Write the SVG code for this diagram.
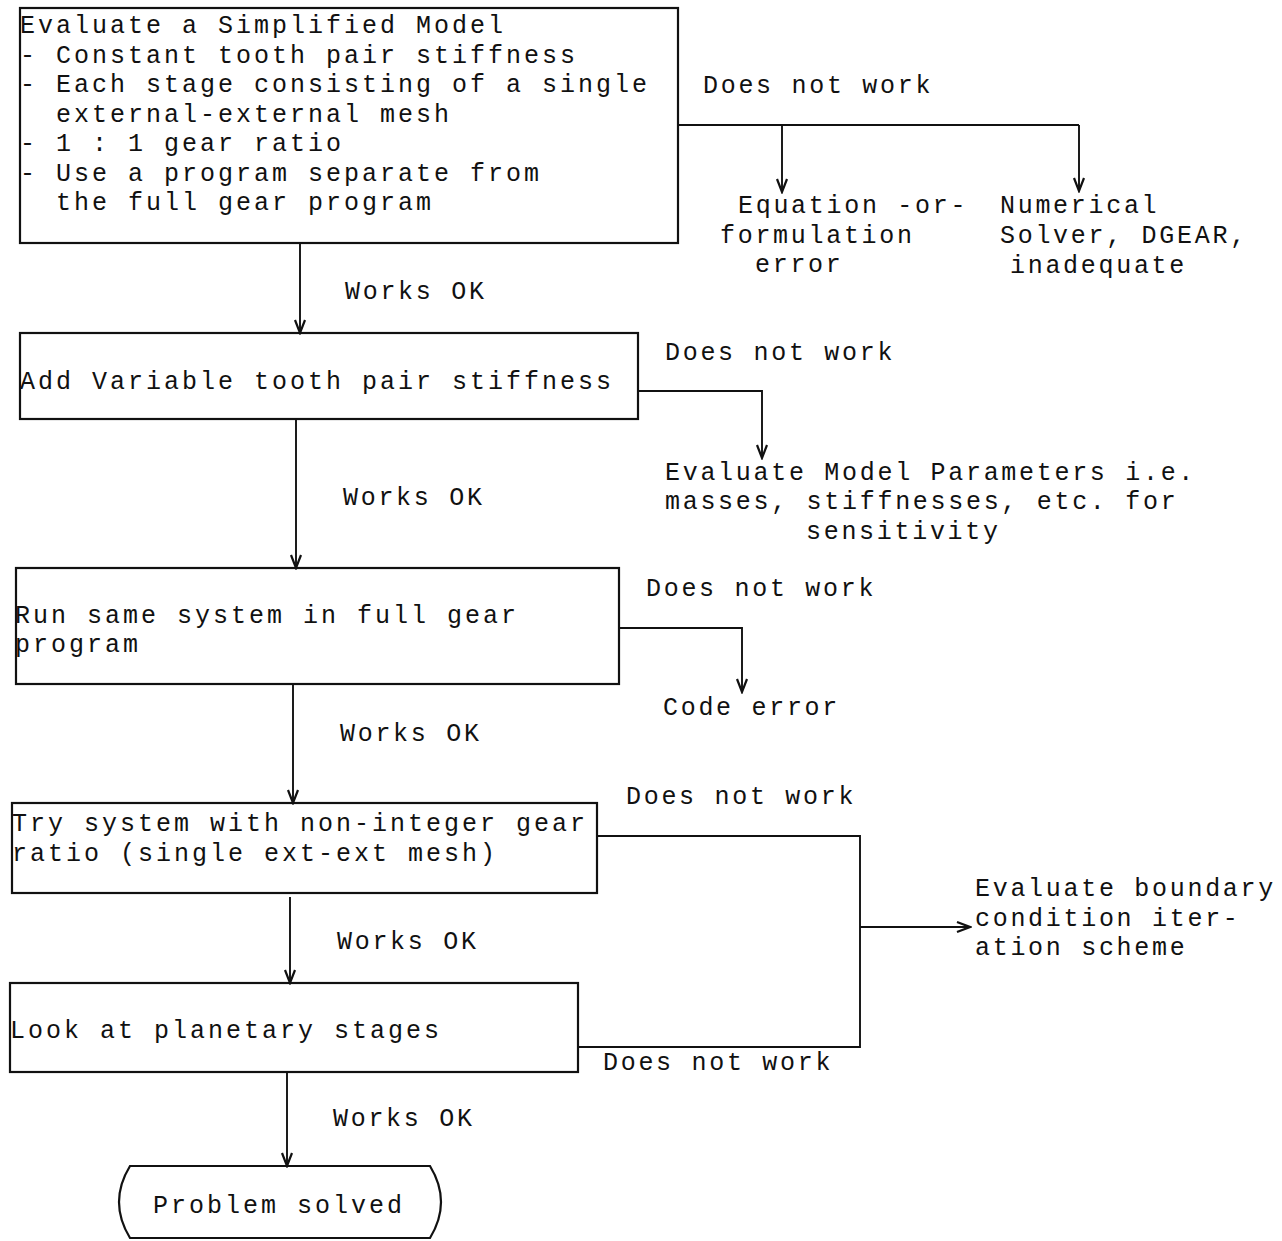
<svg xmlns="http://www.w3.org/2000/svg" width="1282" height="1241" viewBox="0 0 1282 1241" xml:space="preserve">
<style>
.box{fill:none;stroke:#111;stroke-width:2.2}
.ln{fill:none;stroke:#111;stroke-width:1.9}
.t{font-family:"Liberation Mono","DejaVu Sans Mono",monospace;font-size:25px;letter-spacing:3px;fill:#111;white-space:pre}
.l{font-family:"Liberation Mono","DejaVu Sans Mono",monospace;font-size:25px;letter-spacing:2.7px;fill:#111;white-space:pre}
</style>
<defs>
<marker id="ah" markerUnits="userSpaceOnUse" markerWidth="16" markerHeight="14" viewBox="-14 -7 16 14" refX="0" refY="0" orient="auto">
<path d="M-13,-5 L0,0 L-13,5" fill="none" stroke="#111" stroke-width="2.2"/>
</marker>
</defs>
<rect width="1282" height="1241" fill="#fff"/>

<g id="n1">
<rect class="box" x="20" y="8" width="658" height="235"/>
<text class="t" x="20" y="33">Evaluate a Simplified Model</text>
<text class="t" x="20" y="63">- Constant tooth pair stiffness</text>
<text class="t" x="20" y="92">- Each stage consisting of a single</text>
<text class="t" x="20" y="122">  external-external mesh</text>
<text class="t" x="20" y="151">- 1 : 1 gear ratio</text>
<text class="t" x="20" y="181">- Use a program separate from</text>
<text class="t" x="20" y="210">  the full gear program</text>
</g>

<g id="n2">
<text class="l" x="738" y="213">Equation -or-</text>
<text class="l" x="720" y="243">formulation</text>
<text class="l" x="755" y="272">error</text>
</g>

<g id="n3">
<text class="l" x="1000" y="213">Numerical</text>
<text class="l" x="1000" y="243">Solver, DGEAR,</text>
<text class="l" x="1010" y="273">inadequate</text>
</g>

<g id="n4">
<rect class="box" x="20" y="333" width="618" height="86"/>
<text class="t" x="20" y="389">Add Variable tooth pair stiffness</text>
</g>

<g id="n5">
<text class="l" x="665" y="480">Evaluate Model Parameters i.e.</text>
<text class="l" x="665" y="509">masses, stiffnesses, etc. for</text>
<text class="l" x="806" y="539">sensitivity</text>
</g>

<g id="n6">
<rect class="box" x="16" y="568" width="603" height="116"/>
<text class="t" x="15" y="623">Run same system in full gear</text>
<text class="t" x="15" y="652">program</text>
</g>

<g id="n7">
<text class="l" x="663" y="715">Code error</text>
</g>

<g id="n8">
<rect class="box" x="12" y="803" width="585" height="90"/>
<text class="t" x="12" y="831">Try system with non-integer gear</text>
<text class="t" x="12" y="861">ratio (single ext-ext mesh)</text>
</g>

<g id="n9">
<rect class="box" x="10" y="983" width="568" height="89"/>
<text class="t" x="10" y="1038">Look at planetary stages</text>
</g>

<g id="n10">
<text class="l" x="975" y="896">Evaluate boundary</text>
<text class="l" x="975" y="926">condition iter-</text>
<text class="l" x="975" y="955">ation scheme</text>
</g>

<g id="n11">
<path class="box" d="M130,1166 L430,1166 Q452,1202 430,1238 L130,1238 Q108,1202 130,1166 Z"/>
<text class="t" x="153" y="1213">Problem solved</text>
</g>

<g id="connectors">
<path class="ln" d="M678,125 L1079,125"/>
<path class="ln" d="M782,125 L782,192" marker-end="url(#ah)"/>
<path class="ln" d="M1079,125 L1079,191" marker-end="url(#ah)"/>
<path class="ln" d="M300,243 L300,333" marker-end="url(#ah)"/>
<path class="ln" d="M638,391 L762,391 L762,458" marker-end="url(#ah)"/>
<path class="ln" d="M296,419 L296,568" marker-end="url(#ah)"/>
<path class="ln" d="M619,628 L742,628 L742,692" marker-end="url(#ah)"/>
<path class="ln" d="M293,684 L293,803" marker-end="url(#ah)"/>
<path class="ln" d="M597,836 L860,836 L860,1047 L578,1047"/>
<path class="ln" d="M860,927 L970,927" marker-end="url(#ah)"/>
<path class="ln" d="M290,897 L290,983" marker-end="url(#ah)"/>
<path class="ln" d="M287,1072 L287,1166" marker-end="url(#ah)"/>
<text class="l" x="703" y="93">Does not work</text>
<text class="l" x="345" y="299">Works OK</text>
<text class="l" x="665" y="360">Does not work</text>
<text class="l" x="343" y="505">Works OK</text>
<text class="l" x="646" y="596">Does not work</text>
<text class="l" x="340" y="741">Works OK</text>
<text class="l" x="626" y="804">Does not work</text>
<text class="l" x="337" y="949">Works OK</text>
<text class="l" x="603" y="1070">Does not work</text>
<text class="l" x="333" y="1126">Works OK</text>
</g>
</svg>
